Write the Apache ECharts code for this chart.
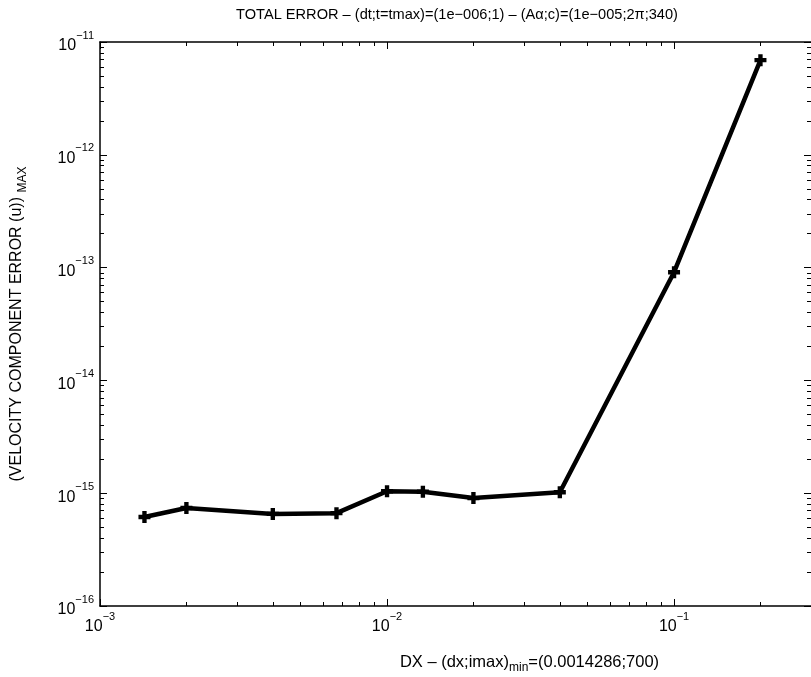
<!DOCTYPE html>
<html>
<head>
<meta charset="utf-8">
<script src="https://cdn.jsdelivr.net/npm/echarts@6/dist/echarts.min.js"></script>
<style>
html, body { margin: 0; padding: 0; background: #fff; }
#main { width: 811px; height: 677px; }
</style>
</head>
<body>
<div id="main"></div>
<script>
// grid spacing dx and the max error of the u component
const dxValues = [1 / 700, 0.002, 0.004, 1 / 150, 0.01, 1 / 75, 0.02, 0.04, 0.1, 0.2];
const errValues = [6.15e-16, 7.4e-16, 6.55e-16, 6.65e-16, 1.04e-15, 1.03e-15, 9.05e-16, 1.02e-15, 9.1e-14, 6.9e-12];

// axis ticks
const xMajor = [1e-3, 1e-2, 1e-1];
const xMinor = [0.002, 0.003, 0.004, 0.005, 0.006, 0.007, 0.008, 0.009,
    0.02, 0.03, 0.04, 0.05, 0.06, 0.07, 0.08, 0.09, 0.2];
const yMajor = [1e-16, 1e-15, 1e-14, 1e-13, 1e-12, 1e-11];
const yMinor = [];
for (let e = -16; e < -11; e++) {
    for (let m = 2; m <= 9; m++) yMinor.push(m * Math.pow(10, e));
}

const FONT = 'Liberation Sans, Arial, Helvetica, sans-serif';

// 10 with exponent as superscript
function powLabel(v) {
    const e = Math.round(Math.log10(v));
    return '{b|10}{s|' + (e < 0 ? '\u2212' + (-e) : e) + '}';
}
const powRich = {
    b: {fontSize: 16, lineHeight: 24, verticalAlign: 'bottom', color: '#000', fontFamily: FONT},
    s: {fontSize: 11, lineHeight: 11, verticalAlign: 'top', color: '#000', fontFamily: FONT}
};

const black = {color: '#000', width: 1.5};

function xAxisOf(grid, pos, ticks, len, showLine, withLabel) {
    const ax = {
        type: 'log', gridIndex: grid, position: pos,
        min: 0.001, max: 0.3,
        axisLine: {show: showLine, lineStyle: black},
        axisTick: {show: true, inside: true, length: len, customValues: ticks, lineStyle: {color: '#000', width: 1}},
        minorTick: {show: false},
        splitLine: {show: false},
        axisLabel: {show: false}
    };
    if (withLabel) {
        ax.axisLabel = {
            show: true, margin: 5, customValues: xMajor,
            formatter: powLabel, rich: powRich
        };
        ax.name = 'DX \u2013 (dx;imax){sub|min}=(0.0014286;700)';
        ax.nameLocation = 'middle';
        ax.nameGap = 45;
        ax.nameTextStyle = {
            fontSize: 16.5, color: '#000', fontFamily: FONT, padding: [0, 0, 0, 148],
            rich: {sub: {fontSize: 12, padding: [11, 0, 0, 0], color: '#000', fontFamily: FONT}}
        };
    }
    return ax;
}

function yAxisOf(grid, pos, ticks, len, showLine, withLabel) {
    const ax = {
        type: 'log', gridIndex: grid, position: pos,
        min: 1e-16, max: 1e-11,
        axisLine: {show: showLine, lineStyle: black},
        axisTick: {show: true, inside: true, length: len, customValues: ticks, lineStyle: {color: '#000', width: 1}},
        minorTick: {show: false},
        splitLine: {show: false},
        axisLabel: {show: false}
    };
    if (withLabel) {
        ax.axisLabel = {
            show: true, margin: 6, customValues: yMajor,
            formatter: powLabel, rich: powRich
        };
        ax.name = '(VELOCITY COMPONENT ERROR (u)) {sub|MAX}';
        ax.nameLocation = 'middle';
        ax.nameGap = 71;
        ax.nameTextStyle = {
            fontSize: 16, color: '#000', fontFamily: FONT,
            rich: {sub: {fontSize: 12, padding: [12, 0, 0, 0], color: '#000', fontFamily: FONT}}
        };
    }
    return ax;
}

const chart = echarts.init(document.getElementById('main'));

const gridBox = {left: 100, right: 0, top: 42, bottom: 71, outerBoundsMode: 'none'};

const option = {
    animation: false,
    backgroundColor: '#fff',
    title: {
        text: 'TOTAL ERROR \u2013 (dt;t=tmax)=(1e\u2212006;1) \u2013 (A\u03b1;c)=(1e\u2212005;2\u03c0;340)',
        left: 457, top: 7, padding: 0, textAlign: 'center',
        textStyle: {fontSize: 14.6, fontWeight: 'normal', color: '#000', fontFamily: FONT}
    },
    // grid 1 sits on top of grid 0 and only carries the minor ticks
    grid: [Object.assign({}, gridBox), Object.assign({}, gridBox)],
    xAxis: [
        xAxisOf(0, 'bottom', xMajor, 7, true, true),
        xAxisOf(0, 'top', xMajor, 7, true, false),
        xAxisOf(1, 'bottom', xMinor, 4, false, false),
        xAxisOf(1, 'top', xMinor, 4, false, false)
    ],
    yAxis: [
        yAxisOf(0, 'left', yMajor, 7, true, true),
        yAxisOf(0, 'right', yMajor, 7, false, false),
        yAxisOf(1, 'left', yMinor, 4, false, false),
        yAxisOf(1, 'right', yMinor, 4, false, false)
    ],
    series: [
        {
            type: 'line',
            xAxisIndex: 0, yAxisIndex: 0,
            data: dxValues.map((x, i) => [x, errValues[i]]),
            lineStyle: {color: '#000', width: 4.5},
            symbol: 'path://M3.5,0h4v3.5h3.5v4h-3.5v3.5h-4v-3.5h-3.5v-4h3.5z',
            symbolSize: 12,
            itemStyle: {color: '#000'},
            showSymbol: true
        }
    ]
};

chart.setOption(option);
</script>
</body>
</html>
